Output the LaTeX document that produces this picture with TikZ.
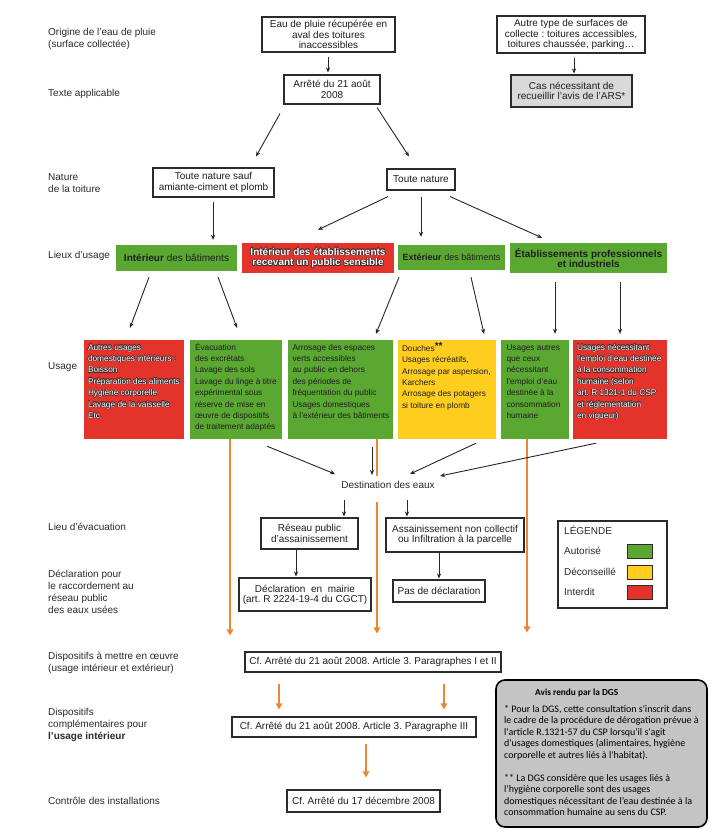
\documentclass[tikz,border=0pt]{standalone}
\usepackage{fontspec}
\setmainfont{Liberation Sans}
\newfontfamily\calfont{Carlito}
\usetikzlibrary{arrows.meta,calc}
\frenchspacing
\definecolor{gr}{HTML}{5AA832}
\definecolor{rd}{HTML}{E3332A}
\definecolor{yl}{HTML}{FFCD1E}
\definecolor{og}{HTML}{E8892F}
\definecolor{bx}{HTML}{2B2B2B}
\definecolor{txt}{HTML}{1E1E1E}
\definecolor{lblc}{HTML}{2A2A2A}
\definecolor{outc}{HTML}{3A2A2A}
\definecolor{lgrey}{HTML}{D9D9D9}
\definecolor{dgsgrey}{HTML}{C4C4C4}
\newcommand\fsz[2]{\fontsize{#1}{#2}\selectfont}
\newcommand\outlined[4]{%
  \foreach \ang in {0,45,...,315}{%
    \node[#3, text=outc] at ([shift={(\ang:0.55pt)}]#2) {#4};}
  \node[#3, text=white] (#1) at (#2) {#4};}
\begin{document}
\frenchspacing
\begin{tikzpicture}[x=1pt,y=-1pt,
 box/.style={draw=bx, line width=1.1pt, align=center, inner sep=0pt, text=txt, font=\fsz{10}{10.3}\frenchspacing},
 lbl/.style={anchor=west, align=left, inner sep=0pt, text=lblc, font=\fsz{10}{12}},
 cbox/.style={draw=none, inner sep=0pt, text=txt},
 utext/.style={anchor=north west, align=left, inner sep=0pt, font=\fsz{8.3}{11.4}\frenchspacing},
 arr/.style={draw=black!85, line width=0.9pt, -{Stealth[length=5pt,width=4.2pt]}},
 oline/.style={draw=og, line width=1.5pt},
 oarr/.style={oline, -{Triangle[length=6pt,width=6.5pt]}},
 sw/.style={draw=bx, line width=0.8pt, minimum width=25, minimum height=14, inner sep=0pt},
]
\fill[white] (0,0) rectangle (727,840);
\useasboundingbox (0,0) rectangle (727,840);

% left labels
\node[lbl] (l1) at (48,39) {Origine de l'eau de pluie\\(surface collectée)};
\node[lbl] (l2) at (48,94) {Texte applicable};
\node[lbl] (l3) at (48,183) {Nature\\de la toiture};
\node[lbl] (l4) at (48,256) {Lieux d'usage};
\node[lbl] (l5) at (48,367) {Usage};
\node[lbl] (l6) at (48,527) {Lieu d'évacuation};
\node[lbl] (l7) at (48,592) {Déclaration pour\\le raccordement au\\réseau public\\des eaux usées};
\node[lbl] (l8) at (48,663) {Dispositifs à mettre en œuvre\\(usage intérieur et extérieur)};
\node[lbl] (l9) at (48,725) {Dispositifs\\complémentaires pour\\\textbf{l'usage intérieur}};
\node[lbl] (l10) at (48,801) {Contrôle des installations};

% top boxes
\node[box, minimum width=133, minimum height=35] (b1) at (328.5,34.5) {Eau de pluie récupérée en\\aval des toitures\\inaccessibles};
\node[box, minimum width=96, minimum height=29] (b2) at (332,89.5) {Arrêté du 21 août\\2008};
\node[box, minimum width=148, minimum height=37] (b3) at (571,34.5) {Autre type de surfaces de\\collecte : toitures accessibles,\\toitures chaussée, parking…};
\node[box, fill=lgrey, minimum width=121, minimum height=32] (b4) at (571.5,91) {Cas nécessitant de\\recueillir l'avis de l'ARS*};
\node[box, minimum width=121, minimum height=29] (b5) at (213.5,182.5) {Toute nature sauf\\amiante-ciment et plomb};
\node[box, minimum width=68, minimum height=21] (b6) at (421,179.5) {Toute nature};

% lieux d'usage
\node[cbox, fill=gr, minimum width=121, minimum height=26, font=\fsz{10}{11}] (L1) at (176.5,258) {\textbf{Intérieur} des bâtiments};
\node[cbox, fill=rd, minimum width=152, minimum height=30] (L2) at (318,258) {};
\outlined{L2t}{L2}{font=\fsz{10}{10.5}\bfseries, align=center, inner sep=0pt}{Intérieur des établissements\\recevant un public sensible}
\node[cbox, fill=gr, minimum width=107, minimum height=25, font=\fsz{9}{10}] (L3) at (451.5,257.5) {\textbf{Extérieur} des bâtiments};
\node[cbox, fill=gr, minimum width=157, minimum height=30, font=\fsz{10}{10.5}\bfseries, align=center] (L4) at (588.5,258) {Établissements professionnels\\et industriels};

% usage boxes
\node[cbox, fill=rd, minimum width=100, minimum height=99] (U1) at (134,389.5) {};
\node[cbox, fill=gr, minimum width=92, minimum height=99] (U2) at (236,389.5) {};
\node[cbox, fill=gr, minimum width=105, minimum height=99] (U3) at (340.5,389.5) {};
\node[cbox, fill=yl, minimum width=98, minimum height=99] (U4) at (447,389.5) {};
\node[cbox, fill=gr, minimum width=68, minimum height=99] (U5) at (535,389.5) {};
\node[cbox, fill=rd, minimum width=94, minimum height=99] (U6) at (620,389.5) {};
\coordinate (U1p) at ([shift={(4,2.5)}]U1.north west);
\coordinate (U6p) at ([shift={(4,2.5)}]U6.north west);
\outlined{U1t}{U1p}{utext}{\rule{0pt}{7.5pt}Autres usages\\domestiques intérieurs :\\Boisson\\Préparation des aliments\\Hygiène corporelle\\Lavage de la vaisselle\\Etc.}
\node[utext, text=txt] (U2t) at ([shift={(5,2.5)}]U2.north west) {\rule{0pt}{7.5pt}Évacuation\\des excrétats\\Lavage des sols\\Lavage du linge à titre\\expérimental sous\\réserve de mise en\\œuvre de dispositifs\\de traitement adaptés};
\node[utext, text=txt] (U3t) at ([shift={(4.5,2.5)}]U3.north west) {\rule{0pt}{7.5pt}Arrosage des espaces\\verts accessibles\\au public en dehors\\des périodes de\\fréquentation du public\\Usages domestiques\\à l'extérieur des bâtiments};
\node[utext, text=txt] (U4t) at ([shift={(4,2.5)}]U4.north west) {\rule{0pt}{7.5pt}Douches\raisebox{2pt}{\fsz{10}{10}\textbf{**}}\\Usages récréatifs,\\Arrosage par aspersion,\\Karchers\\Arrosage des potagers\\si toiture en plomb};
\node[utext, text=txt] (U5t) at ([shift={(5.5,2.5)}]U5.north west) {\rule{0pt}{7.5pt}Usages autres\\que ceux\\nécessitant\\l'emploi d'eau\\destinée à la\\consommation\\humaine};
\outlined{U6t}{U6p}{utext}{\rule{0pt}{7.5pt}Usages nécessitant\\l'emploi d'eau destinée\\à la consommation\\humaine (selon\\art. R 1321-1 du CSP\\et réglementation\\en vigueur)}

\node[inner sep=1pt, font=\fsz{10}{11}, text=lblc] (dest) at (388,485) {Destination des eaux};

% lower boxes
\node[box, minimum width=97, minimum height=31] (r1) at (309.5,533.5) {Réseau public\\d'assainissement};
\node[box, minimum width=138, minimum height=34] (r2) at (455,535) {Assainissement non collectif\\ou Infiltration à la parcelle};
\node[box, minimum width=132, minimum height=33] (d1) at (305,594.5) {Déclaration\ \ en\ \ mairie\\(art. R 2224-19-4 du CGCT)};
\node[box, minimum width=92, minimum height=22] (d2) at (439,591) {Pas de déclaration};
\node[box, minimum width=256, minimum height=20] (c1) at (373,662) {Cf. Arrêté du 21 août 2008. Article 3. Paragraphes I et II};
\node[box, minimum width=244, minimum height=20] (c2) at (354,727) {Cf. Arrêté du 21 août 2008. Article 3. Paragraphe III};
\node[box, minimum width=153, minimum height=22] (c3) at (363.5,801) {Cf. Arrêté du 17 décembre 2008};

% legend
\node[draw=bx, line width=1.1pt, minimum width=109, minimum height=87, inner sep=0pt] (leg) at (612.5,564.5) {};
\node[lbl] (legt) at (564,530) {LÉGENDE};
\node[lbl] (leg1) at (564,551) {Autorisé};
\node[lbl] (leg2) at (564,572) {Déconseillé};
\node[lbl] (leg3) at (564,592) {Interdit};
\node[sw, fill=gr] (sw1) at (639.5,551) {};
\node[sw, fill=yl] (sw2) at (639.5,572.5) {};
\node[sw, fill=rd] (sw3) at (639.5,592) {};

% DGS box
\node[draw=black, line width=1.6pt, rounded corners=9pt, fill=dgsgrey, minimum width=211, minimum height=147, inner sep=0pt] (dgs) at (601.5,753.5) {};
\node[anchor=west, inner sep=0pt, font=\calfont\bfseries\fsz{9.3}{11}] (dgst) at (535,693) {Avis rendu par la DGS};
\node[anchor=north west, inner sep=0pt, align=left, font=\calfont\fsz{10}{11.5}\frenchspacing] (dgsb) at (504,704) {\rule{0pt}{8pt}* Pour la DGS, cette consultation s\textquotesingle inscrit dans\\le cadre de la procédure de dérogation prévue à\\l\textquotesingle article R.1321-57 du CSP lorsqu\textquotesingle il s\textquotesingle agit\\d\textquotesingle usages domestiques (alimentaires, hygiène\\corporelle et autres liés à l\textquotesingle habitat).\\[11.5pt]** La DGS considère que les usages liés à\\l’hygiène corporelle sont des usages\\domestiques nécessitant de l’eau destinée à la\\consommation humaine au sens du CSP.};

% orange arrows
\draw[oarr] ([shift={(-6,0)}]U2.south) -- ([shift={(-143,-16)}]c1.north);
\draw[oline] ([shift={(36.5,0)}]U3.south) -- ([shift={(-11,-9)}]dest.center);
\draw[oarr] ([shift={(-11,17)}]dest.center) -- ([shift={(4,-18)}]c1.north);
\draw[oarr] ([shift={(-8,0)}]U5.south) -- ([shift={(154,-19)}]c1.north);
\draw[oarr] ([shift={(-94,11)}]c1.south) -- ([shift={(-75,-7)}]c2.north);
\draw[oarr] ([shift={(71,11)}]c1.south) -- ([shift={(90,-7)}]c2.north);
\draw[oarr] ([shift={(12,6)}]c2.south) -- ([shift={(2.5,-12)}]c3.north);

% black arrows
\draw[arr] ([shift={(-0.5,4)}]b1.south) -- ([shift={(-4,-2)}]b2.north);
\draw[arr] ([shift={(3,4)}]b3.south) -- ([shift={(2.5,-1)}]b4.north);
\draw[arr] ([shift={(-52,9)}]b2.south) -- ([shift={(42.5,-11)}]b5.north);
\draw[arr] ([shift={(45,3)}]b2.south) -- ([shift={(-12,-12)}]b6.north);
\draw[arr] ([shift={(-0.5,4)}]b5.south) -- ([shift={(36.5,-5)}]L1.north);
\draw[arr] ([shift={(-33,6)}]b6.south) -- ([shift={(0,-13)}]L2.north);
\draw[arr] ([shift={(0,6)}]b6.south) -- ([shift={(-30.5,-8)}]L3.north);
\draw[arr] ([shift={(29,6)}]b6.south) -- ([shift={(-46.5,-5)}]L4.north);
\draw[arr] ([shift={(-27.5,6)}]L1.south) -- ([shift={(-4,-12)}]U1.north);
\draw[arr] ([shift={(41.5,6)}]L1.south) -- ([shift={(1,-12)}]U2.north);
\draw[arr] ([shift={(-52.5,7)}]L3.south) -- ([shift={(35.5,-6)}]U3.north);
\draw[arr] ([shift={(19.5,7)}]L3.south) -- ([shift={(37,-6)}]U4.north);
\draw[arr] ([shift={(-33.5,9)}]L4.south) -- ([shift={(20,-6)}]U5.north);
\draw[arr] ([shift={(31.5,9)}]L4.south) -- ([shift={(0,-6)}]U6.north);
\draw[arr] ([shift={(31,7)}]U2.south) -- ([shift={(-53,-11)}]dest.center);
\draw[arr] ([shift={(31.5,8)}]U3.south) -- ([shift={(-16,-10)}]dest.center);
\draw[arr] ([shift={(29,4)}]U4.south) -- ([shift={(22,-11)}]dest.center);
\draw[arr] ([shift={(-24,4)}]U6.south) -- ([shift={(52,-9)}]dest.center);
\draw[arr] ([shift={(-44,15)}]dest.center) -- ([shift={(34.5,-1)}]r1.north);
\draw[arr] ([shift={(19,15)}]dest.center) -- ([shift={(-48,-1)}]r2.north);
\draw[arr] ([shift={(-13.5,0.5)}]r1.south) -- ([shift={(-9,-1)}]d1.north);
\draw[arr] ([shift={(-16,0.5)}]r2.south) -- ([shift={(0,-1)}]d2.north);
\end{tikzpicture}
\end{document}
